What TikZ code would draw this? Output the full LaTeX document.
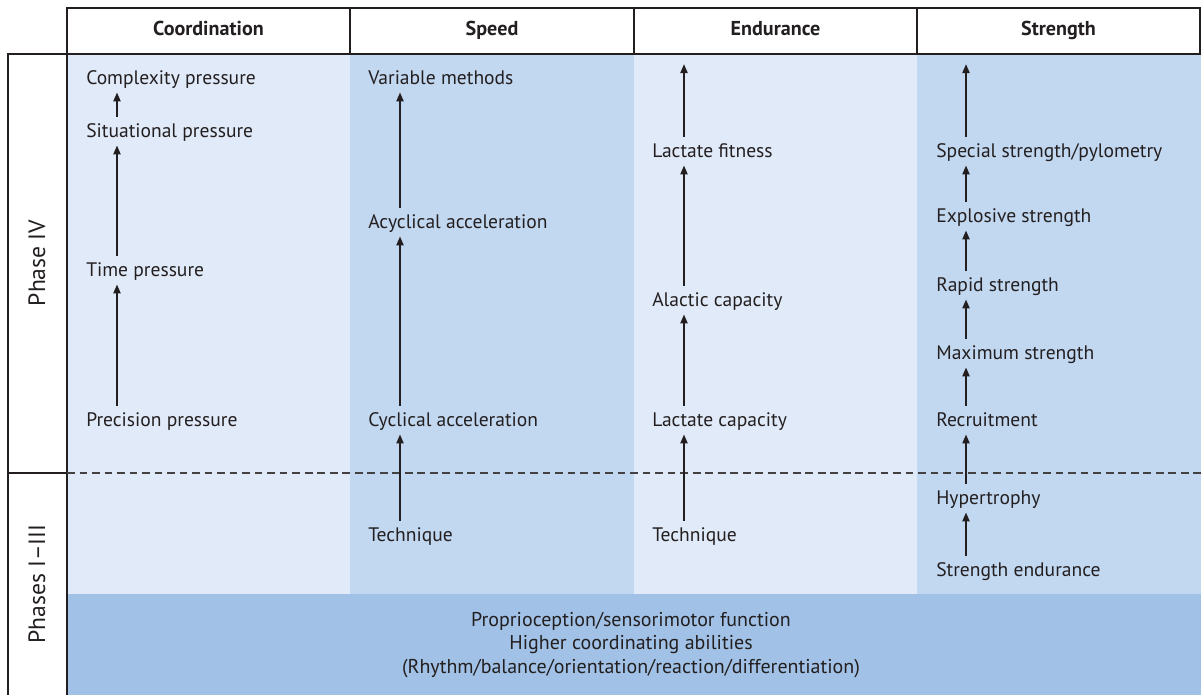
\documentclass[tikz,border=0pt]{standalone}
\usepackage{fontspec}
\setmainfont{PT Sans}
\usetikzlibrary{arrows.meta}
\definecolor{lightcol}{RGB}{225,234,248}
\definecolor{midcol}{RGB}{194,215,240}
\definecolor{basecol}{RGB}{161,194,230}
\definecolor{inkcol}{RGB}{35,31,32}
\begin{document}
\begin{tikzpicture}[x=0.025cm,y=-0.025cm,
  lbl/.style={anchor=west,inner sep=0pt,minimum height=20pt,text height=10.5pt,text depth=1.5pt,font=\fontsize{13.9}{15}\selectfont,text=inkcol},
  head/.style={inner sep=0pt,text height=10pt,text depth=3pt,font=\bfseries\fontsize{14.3}{16}\selectfont,text=inkcol},
  up/.style={-{Triangle[length=6.5pt,width=5pt]},line width=1.5pt,draw=inkcol},
  phase/.style={rotate=90,font=\fontsize{16.8}{18}\selectfont,text=inkcol}]
\useasboundingbox (0,0) rectangle (1201,695);
% column shading
\fill[lightcol] (67,54) rectangle (350,594);
\fill[midcol] (350,54) rectangle (634,594);
\fill[lightcol] (634,54) rectangle (917,594);
\fill[midcol] (917,54) rectangle (1201,594);
\fill[basecol] (67,594) rectangle (1201,695);
% frame
\draw[line width=0.9pt,inkcol] (67,8) rectangle (1200,54);
\foreach \x in {350,634,917} { \draw[line width=0.9pt,inkcol] (\x,8) -- (\x,54); }
\draw[line width=0.9pt,inkcol] (8,695) -- (8,54) -- (67,54) -- (67,695);
\draw[line width=0.9pt,inkcol] (8,473) -- (67,473);
\draw[line width=0.9pt,inkcol!85,dash pattern=on 5.5pt off 3.4pt] (67,473) -- (1201,473);
% headers
\node[head] (hco) at (208.5,31) {Coordination};
\node[head] (hsp) at (492,31) {Speed};
\node[head] (hen) at (775.5,31) {Endurance};
\node[head] (hst) at (1058.5,31) {Strength};
\node[phase] (p4) at (37,263) {Phase IV};
\node[phase] (p13) at (37,584) {Phases I--III};
% coordination
\node[lbl] (cp) at (86,78) {Complexity pressure};
\node[lbl] (sp) at (86,131) {Situational pressure};
\node[lbl] (tp) at (86,270) {Time pressure};
\node[lbl] (pp) at (86,420) {Precision pressure};
% speed
\node[lbl] (vm) at (368,78) {Variable methods};
\node[lbl] (aa) at (368,222) {Acyclical acceleration};
\node[lbl] (ca) at (368,420) {Cyclical acceleration};
\node[lbl] (st) at (368,535) {Technique};
% endurance
\node[lbl] (lf) at (652,151) {Lactate fitness};
\node[lbl] (ac) at (652,300) {Alactic capacity};
\node[lbl] (lc) at (652,420) {Lactate capacity};
\node[lbl] (et) at (652,535) {Technique};
% strength
\node[lbl] (ss) at (936,151) {Special strength/pylometry};
\node[lbl] (es) at (936,216) {Explosive strength};
\node[lbl] (rs) at (936,285) {Rapid strength};
\node[lbl] (ms) at (936,353) {Maximum strength};
\node[lbl] (re) at (936,420) {Recruitment};
\node[lbl] (hy) at (936,498) {Hypertrophy};
\node[lbl] (se) at (936,570) {Strength endurance};
% base
\node[align=center,font=\fontsize{14.2}{16.7}\selectfont,text=inkcol] (base) at (631,645)
  {Proprioception/sensorimotor function\\Higher coordinating abilities\\(Rhythm/balance/orientation/reaction/differentiation)};
% arrows
\coordinate (xco) at (117,0); \coordinate (xsp) at (400,0);
\coordinate (xen) at (684,0); \coordinate (xst) at (966,0);
\coordinate (entop) at (684,64); \coordinate (sttop) at (966,64);
\draw[up] (sp.north -| xco) -- (cp.south -| xco);
\draw[up] (tp.north -| xco) -- (sp.south -| xco);
\draw[up] (pp.north -| xco) -- (tp.south -| xco);
\draw[up] (aa.north -| xsp) -- (vm.south -| xsp);
\draw[up] (ca.north -| xsp) -- (aa.south -| xsp);
\draw[up] (st.north -| xsp) -- (ca.south -| xsp);
\draw[up] (lf.north -| xen) -- (entop);
\draw[up] (ac.north -| xen) -- (lf.south -| xen);
\draw[up] (lc.north -| xen) -- (ac.south -| xen);
\draw[up] (et.north -| xen) -- (lc.south -| xen);
\draw[up] (ss.north -| xst) -- (sttop);
\draw[up] (es.north -| xst) -- (ss.south -| xst);
\draw[up] (rs.north -| xst) -- (es.south -| xst);
\draw[up] (ms.north -| xst) -- (rs.south -| xst);
\draw[up] (re.north -| xst) -- (ms.south -| xst);
\draw[up] (hy.north -| xst) -- (re.south -| xst);
\draw[up] (se.north -| xst) -- (hy.south -| xst);
\end{tikzpicture}
\end{document}
